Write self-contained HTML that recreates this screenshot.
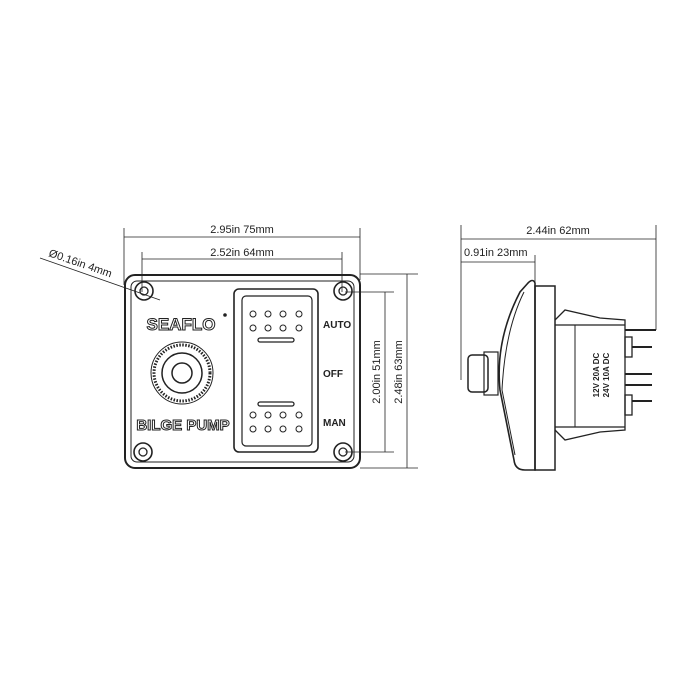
<!DOCTYPE html>
<html><head><meta charset="utf-8"><style>body{margin:0;background:#fff}svg{display:block}</style></head><body>
<svg width="700" height="700" viewBox="0 0 700 700" xmlns="http://www.w3.org/2000/svg" font-family="Liberation Sans, sans-serif">
<g stroke="#222" fill="none" stroke-width="1.3">
<!-- dimension lines front -->
<line x1="124" y1="228" x2="124" y2="285" stroke-width="0.8"/>
<line x1="360" y1="228" x2="360" y2="280" stroke-width="0.8"/>
<line x1="124" y1="237" x2="360" y2="237" stroke-width="0.8"/>
<line x1="142" y1="252" x2="142" y2="292" stroke-width="0.8"/>
<line x1="342" y1="252" x2="342" y2="292" stroke-width="0.8"/>
<line x1="142" y1="259" x2="342" y2="259" stroke-width="0.8"/>
<line x1="360" y1="274" x2="418" y2="274" stroke-width="0.8"/>
<line x1="345" y1="292" x2="394" y2="292" stroke-width="0.8"/>
<line x1="345" y1="452" x2="394" y2="452" stroke-width="0.8"/>
<line x1="360" y1="468" x2="418" y2="468" stroke-width="0.8"/>
<line x1="385" y1="292" x2="385" y2="452" stroke-width="0.8"/>
<line x1="407" y1="274" x2="407" y2="468" stroke-width="0.8"/>
<line x1="40" y1="258" x2="160" y2="300" stroke-width="0.8"/>
<!-- panel -->
<rect x="125" y="275" width="235" height="193" rx="10" stroke-width="2"/>
<rect x="131" y="281" width="223" height="181" rx="6" stroke-width="1"/>
<circle cx="144" cy="291" r="9" stroke-width="1.6"/><circle cx="144" cy="291" r="4"/>
<circle cx="343" cy="291" r="9" stroke-width="1.6"/><circle cx="343" cy="291" r="4"/>
<circle cx="143" cy="452" r="9" stroke-width="1.6"/><circle cx="143" cy="452" r="4"/>
<circle cx="343" cy="452" r="9" stroke-width="1.6"/><circle cx="343" cy="452" r="4"/>
<!-- rocker -->
<rect x="234" y="289" width="84" height="163" rx="5" stroke-width="1.6"/>
<rect x="242" y="296" width="70" height="150" rx="4" stroke-width="1.2"/>
<rect x="258" y="338" width="36" height="4" rx="2"/>
<rect x="258" y="402" width="36" height="4" rx="2"/>
<g stroke-width="1">
<circle cx="253" cy="314" r="3"/><circle cx="268" cy="314" r="3"/><circle cx="283" cy="314" r="3"/><circle cx="299" cy="314" r="3"/>
<circle cx="253" cy="328" r="3"/><circle cx="268" cy="328" r="3"/><circle cx="283" cy="328" r="3"/><circle cx="299" cy="328" r="3"/>
<circle cx="253" cy="415" r="3"/><circle cx="268" cy="415" r="3"/><circle cx="283" cy="415" r="3"/><circle cx="299" cy="415" r="3"/>
<circle cx="253" cy="429" r="3"/><circle cx="268" cy="429" r="3"/><circle cx="283" cy="429" r="3"/><circle cx="299" cy="429" r="3"/>
</g>
<!-- button -->
<circle cx="182" cy="373" r="31" stroke-width="1"/>
<circle cx="182" cy="373" r="28" stroke-width="3" stroke-dasharray="1.5 1.5"/>
<circle cx="182" cy="373" r="20" stroke-width="1.5"/>
<circle cx="182" cy="373" r="10" stroke-width="1.5"/>
<!-- side view dims -->
<line x1="461" y1="225" x2="461" y2="380" stroke-width="0.8"/>
<line x1="656" y1="225" x2="656" y2="330" stroke-width="0.8"/>
<line x1="461" y1="239" x2="656" y2="239" stroke-width="0.8"/>
<line x1="535" y1="255" x2="535" y2="285" stroke-width="0.8"/>
<line x1="461" y1="262" x2="535" y2="262" stroke-width="0.8"/>
<!-- side bezel -->
<path d="M528 283 Q533 278 535 283 L535 470 L525 470 Q515 470 514 460 L500 390 Q495 340 520 292 Z" stroke-width="1.6"/>
<path d="M524 292 Q505 330 502 390 L515 455" stroke-width="1"/>
<rect x="535" y="286" width="20" height="184" stroke-width="1.5"/>
<rect x="468" y="355" width="20" height="37" rx="4" stroke-width="1.5"/>
<rect x="484" y="352" width="14" height="43" stroke-width="1.2"/>
<path d="M555 320 L565 310 L600 318 L625 320 L625 430 L600 432 L565 440 L555 430" stroke-width="1.3"/>
<line x1="555" y1="325" x2="625" y2="325"/>
<line x1="555" y1="427" x2="625" y2="427"/>
<line x1="575" y1="325" x2="575" y2="427" stroke-width="1"/>
<rect x="625" y="337" width="7" height="20"/>
<rect x="625" y="395" width="7" height="20"/>
<g stroke-width="2">
<line x1="625" y1="330" x2="656" y2="330"/>
<line x1="632" y1="347" x2="652" y2="347"/>
<line x1="625" y1="374" x2="652" y2="374"/>
<line x1="625" y1="385" x2="652" y2="385"/>
<line x1="632" y1="401" x2="652" y2="401"/>
</g>
</g>
<g fill="#222" font-size="11">
<text x="242" y="233" text-anchor="middle">2.95in 75mm</text>
<text x="242" y="256" text-anchor="middle">2.52in 64mm</text>
<text x="48" y="256" transform="rotate(19 48 256)" font-size="11">Ø0.16in 4mm</text>
<text x="380" y="372" transform="rotate(-90 380 372)" text-anchor="middle">2.00in 51mm</text>
<text x="402" y="372" transform="rotate(-90 402 372)" text-anchor="middle">2.48in 63mm</text>
<text x="558" y="234" text-anchor="middle">2.44in 62mm</text>
<text x="464" y="256">0.91in 23mm</text>
<g font-weight="bold" font-size="10">
<text x="323" y="328">AUTO</text><text x="323" y="377">OFF</text><text x="323" y="426">MAN</text>
</g>
<text x="181" y="330" text-anchor="middle" font-weight="bold" font-size="17" fill="#fff" stroke="#222" stroke-width="1">SEAFLO</text>
<circle cx="225" cy="315" r="1.8"/>
<text x="183" y="430" text-anchor="middle" font-weight="bold" font-size="15" fill="#fff" stroke="#222" stroke-width="1">BILGE PUMP</text>
<g font-size="8" font-weight="bold">
<text x="599" y="375" transform="rotate(-90 599 375)" text-anchor="middle">12V 20A DC</text>
<text x="609" y="375" transform="rotate(-90 609 375)" text-anchor="middle">24V 10A DC</text>
</g>
</g>
</svg>
</body></html>
